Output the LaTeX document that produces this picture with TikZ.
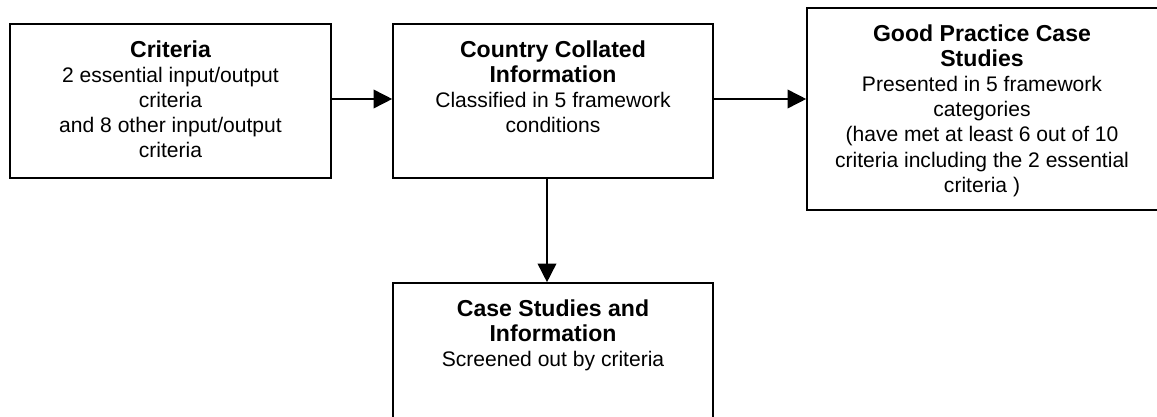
\documentclass[tikz,border=0pt]{standalone}
\usepackage{fontspec}
\setmainfont{Liberation Sans}
\usetikzlibrary{arrows.meta}

\tikzset{
  box/.style={draw,line width=1.2pt,rectangle,inner sep=0pt},
  boxtext/.style={anchor=north,align=center,inner sep=0pt,font=\fontsize{15.8}{18.9}\selectfont},
  arr/.style={line width=1.2pt,-{Triangle[length=14pt,width=14pt]}}
}
\newcommand{\boxtitle}[1]{{\fontsize{17.3}{19.5}\selectfont\bfseries #1}}

\begin{document}
\begin{tikzpicture}[x=0.75pt,y=-0.75pt]
        \useasboundingbox (0,0) rectangle (1157,417);
        \clip (0,0) rectangle (1157,417);
        \node[box,minimum width=240.75pt,minimum height=115.5pt] (crit) at (170.5,101) {};
        \node[box,minimum width=240pt,minimum height=115.5pt] (cci) at (553,101) {};
        \node[box,minimum width=270pt,minimum height=151.5pt] (good) at (987,109) {};
        \node[box,minimum width=240pt,minimum height=115.5pt] (case) at (553,360) {};
        \node[boxtext] (crittext) at ([yshift=-12.75pt]crit.north) {\boxtitle{Criteria}\\2 essential input/output\\criteria\\and 8 other input/output\\criteria};
        \node[boxtext] (ccitext) at ([yshift=-12.75pt]cci.north) {\boxtitle{Country Collated}\\\boxtitle{Information}\\Classified in 5 framework\\conditions};
        \node[boxtext] (goodtext) at ([xshift=-3.75pt,yshift=-12.75pt]good.north) {\boxtitle{Good Practice Case}\\\boxtitle{Studies}\\Presented in 5 framework\\categories\\(have met at least 6 out of 10\\criteria including the 2 essential\\criteria )};
        \node[boxtext] (casetext) at ([yshift=-12.75pt]case.north) {\boxtitle{Case Studies and}\\\boxtitle{Information}\\Screened out by criteria};
        \coordinate (goodin) at (good.west |- cci.east);
        \draw[arr] ([yshift=1.5pt]crit.east) -- ([yshift=1.5pt]cci.west);
        \draw[arr] ([yshift=1.5pt]cci.east) -- ([yshift=1.5pt]goodin);
        \draw[arr] ([xshift=-4.5pt]cci.south) -- ([xshift=-4.5pt]case.north);
    \end{tikzpicture}
\end{document}
